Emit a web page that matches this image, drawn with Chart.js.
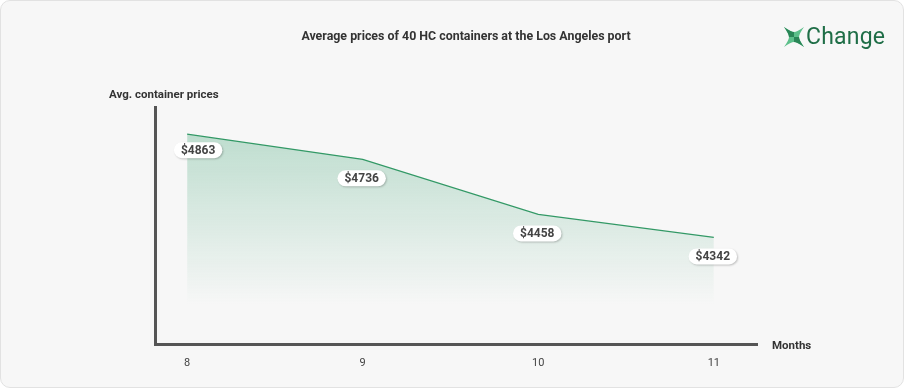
<!DOCTYPE html>
<html lang="en">
<head>
  <meta charset="UTF-8">
  <title>Average prices of 40 HC containers</title>
  <script src="https://cdn.jsdelivr.net/npm/chart.js"></script>
  <style>
    html, body {
      margin: 0;
      padding: 0;
      background: #ffffff;
      font-family: Roboto, sans-serif;
    }
    .card {
      position: relative;
      width: 902px;
      height: 386px;
      background: #f7f7f7;
      border: 1px solid #e2e2e2;
      border-radius: 10px;
      overflow: hidden;
    }
    .title {
      position: absolute;
      left: 0;
      width: 930px;
      top: 27px;
      text-align: center;
      font-size: 12.4px;
      font-weight: bold;
      color: #333;
    }
    .ytitle {
      position: absolute;
      left: 108px;
      top: 86px;
      font-size: 11.5px;
      font-weight: bold;
      color: #333;
    }
    .xtitle {
      position: absolute;
      left: 771px;
      top: 337px;
      font-size: 11.5px;
      font-weight: bold;
      color: #333;
    }
    .logo {
      position: absolute;
      left: 782px;
      top: 22px;
      display: flex;
      align-items: center;
      font-size: 23px;
      color: #1f6e47;
      letter-spacing: 0.2px;
    }
    .logo svg { margin-right: 1px; }
    canvas { position: absolute; left: 0; top: 0; }
  </style>
</head>
<body>
  <div class="card">
    <canvas id="priceChart" width="902" height="386"></canvas>
    <div class="title">Average prices of 40 HC containers at the Los Angeles port</div>
    <div class="ytitle">Avg. container prices</div>
    <div class="xtitle">Months</div>
    <div class="logo">
      <svg width="22" height="22" viewBox="0 0 22 22">
        <path d="M1 1 Q8 6 11 6 Q14 6 21 1 Q16 8 16 11 Q16 14 21 21 Q14 16 11 16 Q8 16 1 21 Q6 14 6 11 Q6 8 1 1 Z" fill="#5cbf8a"/>
        <path d="M1 1 Q8 6 11 6 L11 11 L6 11 Q6 8 1 1 Z M11 11 L16 11 Q16 14 21 21 Q14 16 11 16 Z" fill="#2a8657"/>
      </svg>Change
    </div>
  </div>

  <script>
    const months = [8, 9, 10, 11];
    const prices = [4863, 4736, 4458, 4342];

    const labelPlugin = {
      id: 'priceLabels',
      afterDatasetsDraw(chart) {
        const ctx = chart.ctx;
        const meta = chart.getDatasetMeta(0);
        ctx.save();
        ctx.font = 'bold 12px Roboto, sans-serif';
        ctx.textAlign = 'center';
        ctx.textBaseline = 'middle';
        meta.data.forEach((pt, i) => {
          const text = '$' + prices[i];
          const w = ctx.measureText(text).width + 14;
          const h = 16;
          const cx = pt.x + (i === 0 ? 11 : -1);
          const cy = pt.y + (i === 0 ? 16 : 19);
          ctx.shadowColor = 'rgba(0,0,0,0.22)';
          ctx.shadowBlur = 2;
          ctx.shadowOffsetX = 1;
          ctx.shadowOffsetY = 1;
          ctx.fillStyle = '#ffffff';
          ctx.beginPath();
          ctx.roundRect(cx - w / 2, cy - h / 2, w, h, 8);
          ctx.fill();
          ctx.shadowColor = 'transparent';
          ctx.fillStyle = '#444';
          ctx.fillText(text, cx, cy + 0.5);
        });
        ctx.restore();
      }
    };

    const ctx = document.getElementById('priceChart').getContext('2d');
    new Chart(ctx, {
      type: 'line',
      data: {
        datasets: [{
          data: months.map((m, i) => ({ x: m, y: prices[i] })),
          borderColor: '#339966',
          borderWidth: 1.2,
          pointRadius: 0,
          tension: 0,
          fill: 'origin',
          backgroundColor: (context) => {
            const area = context.chart.chartArea;
            if (!area) return 'rgba(120,190,155,0.3)';
            const g = context.chart.ctx.createLinearGradient(0, area.top + 25, 0, area.bottom - 40);
            g.addColorStop(0, 'rgba(110,185,150,0.42)');
            g.addColorStop(1, 'rgba(110,185,150,0)');
            return g;
          }
        }]
      },
      options: {
        responsive: false,
        animation: false,
        layout: { padding: { left: 146, right: 146, top: 106, bottom: 13 } },
        plugins: {
          legend: { display: false },
          tooltip: { enabled: false }
        },
        scales: {
          x: {
            type: 'linear',
            min: 7.817,
            max: 11.246,
            grid: { display: false },
            border: { display: true, color: '#555', width: 3 },
            afterBuildTicks: (scale) => {
              scale.ticks = months.map(v => ({ value: v }));
            },
            ticks: {
              color: '#444',
              font: { size: 11, family: 'Roboto' },
              padding: 4
            }
          },
          y: {
            min: 3800,
            max: 5000,
            grid: { display: false },
            border: { display: true, color: '#555', width: 3 },
            ticks: { display: false }
          }
        }
      },
      plugins: [labelPlugin]
    });
  </script>
</body>
</html>
